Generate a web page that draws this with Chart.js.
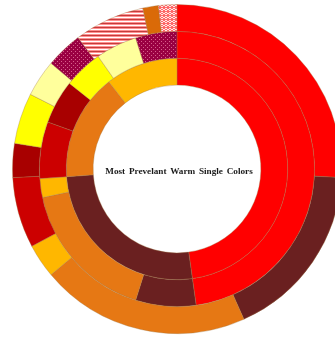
<!DOCTYPE html>
<html>
<head>
<meta charset="utf-8">
<script src="https://cdn.jsdelivr.net/npm/chart.js@4.4.1/dist/chart.umd.min.js"></script>
<style>
html,body{margin:0;padding:0;background:#fff;overflow:hidden;width:335px;height:338px;}
#wrap{position:relative;width:335px;height:338px;overflow:hidden;}
canvas{position:absolute;left:0;top:0;}
#center{position:absolute;left:79px;width:200px;top:166px;text-align:center;font:bold 9.2px "Liberation Serif","Times New Roman",serif;color:#1a1a1a;word-spacing:1.5px;white-space:nowrap;}
</style>
</head>
<body>
<div id="wrap">
<canvas id="c" width="356" height="338"></canvas>
<div id="center">Most Prevelant Warm Single Colors</div>
</div>
<script>
// Data (angular share in degrees, clockwise from 12 o'clock)
const outerCategories = ["Red","Dark Brown","Orange","Gold","Crimson","Dark Red","Yellow","Light Yellow","Dotted Crimson","Striped Pink","Deep Orange","Checked Rose"];
const outerValues = [93, 63, 74, 12, 25, 12, 18, 13, 13, 25, 5.5, 6.5];
const middleCategories = ["Red","Dark Brown","Orange","Gold","Crimson","Dark Red","Yellow","Light Yellow","Dotted Crimson"];
const middleValues = [172, 25.5, 60.5, 8, 24, 18.5, 16.5, 17.5, 17.5];
const innerCategories = ["Red","Dark Brown","Orange","Gold"];
const innerValues = [172, 94, 56, 38];
const centerTitle = "Most Prevelant Warm Single Colors";

function makePattern(w,h,draw){
  const cv=document.createElement('canvas');cv.width=w;cv.height=h;
  const x=cv.getContext('2d');draw(x);
  return document.getElementById('c').getContext('2d').createPattern(cv,'repeat');
}
const dotted = makePattern(4,4,x=>{x.fillStyle='#9a0042';x.fillRect(0,0,4,4);x.fillStyle='#d8608a';x.fillRect(1,1,1,1);x.fillRect(3,3,1,1);});
const striped = makePattern(4,4,x=>{x.fillStyle='#ff9090';x.fillRect(0,0,4,4);x.fillStyle='#ffffff';x.fillRect(0,1,4,1);x.fillStyle='#c43c3c';x.fillRect(0,3,4,1);});
const checked = makePattern(4,4,x=>{x.fillStyle='#ff6a6a';x.fillRect(0,0,4,4);x.fillStyle='#ffe8e8';x.fillRect(1,0,2,1);x.fillRect(0,1,1,1);x.fillRect(3,1,1,1);x.fillRect(1,2,2,1);});

const colorMap = {
  "Red":"#ff0000","Dark Brown":"#6a2020","Orange":"#e67814","Gold":"#ffb700",
  "Crimson":"#cc0000","Dark Red":"#a80000","Yellow":"#ffff00","Light Yellow":"#ffff9c",
  "Dotted Crimson":dotted,"Striped Pink":striped,"Deep Orange":"#da6a08","Checked Rose":checked
};

document.getElementById('center').textContent = centerTitle;

new Chart(document.getElementById('c'),{
  type:'doughnut',
  data:{
    labels: outerCategories,
    datasets:[
      {data:outerValues, backgroundColor:outerCategories.map(k=>colorMap[k])},
      {data:middleValues, backgroundColor:middleCategories.map(k=>colorMap[k])},
      {data:innerValues, backgroundColor:innerCategories.map(k=>colorMap[k])}
    ]
  },
  options:{
    responsive:false, animation:false,
    cutout:'51%',
    layout:{padding:{left:12,right:14,top:4,bottom:4}},
    elements:{arc:{borderWidth:1,borderColor:'rgba(160,120,70,0.35)'}},
    plugins:{legend:{display:false},tooltip:{enabled:false}}
  }
});
</script>
</body>
</html>
